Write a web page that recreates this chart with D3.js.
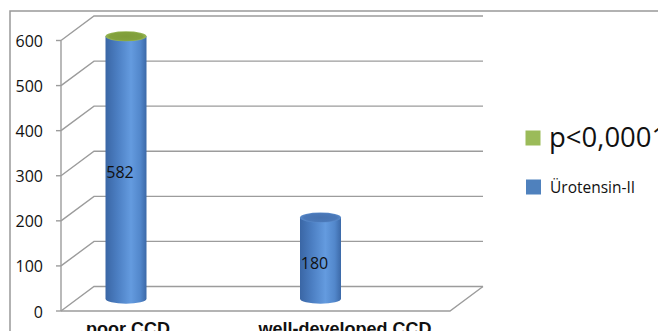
<!DOCTYPE html>
<html>
<head>
<meta charset="utf-8">
<script src="https://cdn.jsdelivr.net/npm/d3@7"></script>
<style>
  html, body { margin: 0; padding: 0; background: #fff; overflow: hidden; }
  svg { display: block; }
</style>
</head>
<body>
<svg id="chart" width="658" height="331"></svg>
<script>
// Urotensin-II levels by collateral development
const categories = ["poor CCD", "well-developed CCD"];
const values = [582, 180];
const yTicks = [0, 100, 200, 300, 400, 500, 600];
const seriesName = "Ürotensin-II";
const noteLabel = "p<0,0001";

const svg = d3.select("#chart");
const W = 658, H = 331;

// Front plane of the 3D box and its depth offset
const frontLeft = 61, frontRight = 450;
const depthX = 33, depthY = -24.5;
const gridColor = "#9c9c9c";

const y = d3.scaleLinear().domain([0, 600]).range([311, 40.5]);
const xBar = d3.scalePoint().domain(categories).range([126, 320.5]);
const xLabel = d3.scalePoint().domain(categories).range([128, 345]);

// Outer chart frame
svg.append("path")
  .attr("d", `M10,${H + 2} V11 H${W + 2}`)
  .attr("fill", "none").attr("stroke", "#999").attr("stroke-width", 1.5);

const grid = svg.append("g").attr("fill", "none").attr("stroke", gridColor).attr("stroke-width", 1.4);

// Back wall gridlines and side wall diagonals
yTicks.forEach(t => {
  const yf = y(t), yb = y(t) + depthY;
  grid.append("path").attr("d", `M${frontLeft},${yf} L${frontLeft + depthX},${yb} L${frontRight + depthX},${yb}`);
  grid.append("line").attr("x1", frontLeft - 5).attr("x2", frontLeft).attr("y1", yf).attr("y2", yf);
});

// Floor front edge and right edge
grid.append("path").attr("d", `M${frontLeft},${y(0)} L${frontRight},${y(0)} L${frontRight + depthX},${y(0) + depthY}`);
// Vertical value axis
grid.append("line").attr("x1", frontLeft).attr("x2", frontLeft).attr("y1", y(600)).attr("y2", y(0));

// Tick labels
svg.append("g").selectAll("text").data(yTicks).join("text")
  .attr("x", 43).attr("y", d => y(d) + 0.5)
  .attr("text-anchor", "end").attr("dominant-baseline", "central")
  .attr("font-family", "'Open Sans', sans-serif").attr("font-size", 16).attr("fill", "#111")
  .text(d => d);

// Cylinder shading
const defs = svg.append("defs");
const body = defs.append("linearGradient").attr("id", "cylBody").attr("x1", 0).attr("x2", 1).attr("y1", 0).attr("y2", 0);
[[0, "#3a66a5"], [0.3, "#4c7fc3"], [0.62, "#649bdf"], [0.85, "#5287cb"], [1, "#3c69a8"]]
  .forEach(([o, c]) => body.append("stop").attr("offset", o).attr("stop-color", c));
const capGreen = defs.append("radialGradient").attr("id", "capGreen");
[[0, "#7f9c3a"], [0.8, "#83a23d"], [1, "#9ab95a"]].forEach(([o, c]) => capGreen.append("stop").attr("offset", o).attr("stop-color", c));
const capBlue = defs.append("radialGradient").attr("id", "capBlue");
[[0, "#4672b0"], [0.8, "#4a78b8"], [1, "#5a8bcb"]].forEach(([o, c]) => capBlue.append("stop").attr("offset", o).attr("stop-color", c));

const rx = 20.5, ry = 5;
const half = depthY / 2;
const bars = svg.append("g").selectAll("g").data(categories.map((c, i) => ({ c, v: values[i], i }))).join("g");

bars.append("path")
  .attr("fill", "url(#cylBody)")
  .attr("d", d => {
    const cx = xBar(d.c), top = y(d.v) + half, bot = y(0) + half;
    return `M${cx - rx},${top} L${cx - rx},${bot} A${rx},${ry} 0 0 0 ${cx + rx},${bot} L${cx + rx},${top} Z`;
  });
bars.append("ellipse")
  .attr("cx", d => xBar(d.c)).attr("cy", d => y(d.v) + half)
  .attr("rx", rx).attr("ry", ry)
  .attr("fill", d => d.i === 0 ? "url(#capGreen)" : "url(#capBlue)");

// Value labels
bars.append("text")
  .attr("x", d => xBar(d.c) - 6)
  .attr("y", d => (y(d.v) + y(0)) / 2 + half + 4.5)
  .attr("text-anchor", "middle").attr("dominant-baseline", "central")
  .attr("font-family", "'Open Sans', sans-serif").attr("font-size", 16).attr("fill", "#111")
  .text(d => d.v);

// Category labels
svg.append("g").selectAll("text").data(categories).join("text")
  .attr("x", d => xLabel(d)).attr("y", 334.5)
  .attr("text-anchor", "middle")
  .attr("font-family", "'Liberation Sans', Arial, sans-serif").attr("font-weight", "bold").attr("font-size", 18).attr("fill", "#111")
  .text(d => d);

// Legend
const legend = svg.append("g");
legend.append("rect").attr("x", 525.5).attr("y", 130.5).attr("width", 15).attr("height", 15).attr("fill", "#9bbb59");
legend.append("text").attr("x", 549).attr("y", 146.5)
  .attr("font-family", "'Open Sans', sans-serif").attr("font-size", 27.5).attr("fill", "#111").text(noteLabel);
legend.append("rect").attr("x", 526).attr("y", 179.5).attr("width", 15).attr("height", 15).attr("fill", "#4f81bd");
legend.append("text").attr("x", 550).attr("y", 192.5)
  .attr("font-family", "'Open Sans', sans-serif").attr("font-size", 15.5).attr("fill", "#111").text(seriesName);
</script>
</body>
</html>
